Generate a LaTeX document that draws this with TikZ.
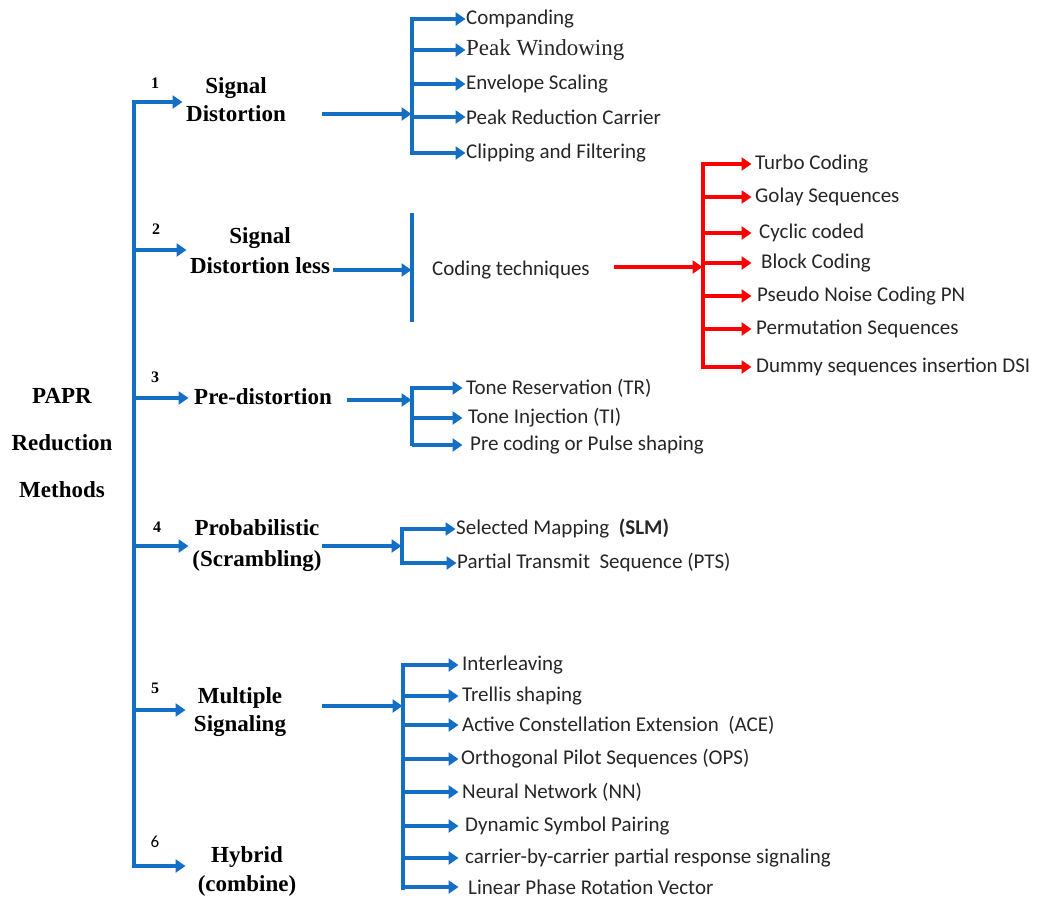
\documentclass[tikz,border=0pt]{standalone}
\usepackage{fontspec}
\setmainfont{Liberation Serif}
\newfontfamily\calib{Carlito}
\usetikzlibrary{arrows.meta}
\definecolor{bblue}{RGB}{20,110,195}
\definecolor{rred}{RGB}{255,0,0}
\tikzset{
  bar/.style={line width=3.6pt,bblue,line cap=rect},
  arr/.style={line width=3.6pt,bblue,-{Triangle[length=10pt,width=13pt]},shorten >=0.5pt},
  rln/.style={line width=3.6pt,rred,line cap=rect},
  rarr/.style={line width=3.6pt,rred,-{Triangle[length=10pt,width=13pt]},shorten >=0.5pt},
  cat/.style={font=\fontsize{23}{28}\selectfont\bfseries,align=center,inner sep=0pt},
  num/.style={font=\fontsize{16}{18}\selectfont\bfseries,inner sep=0pt},
  it/.style={font=\fontsize{21}{25}\selectfont\calib,anchor=west,inner sep=0pt,text=black!85},
}
\begin{document}
\begin{tikzpicture}[x=1pt,y=-1pt]
\useasboundingbox (0,0) rectangle (1037,898);
% title
\node[font=\fontsize{23}{47}\selectfont\bfseries,align=center,inner sep=0pt] (title) at (62,443) {PAPR\\Reduction\\Methods};
% main bar
\coordinate (mt) at (134,102);
\coordinate (mb) at (134,866);
\draw[bar] (mt) -- (mb);
% categories
\node[cat] (n1) at (236,100) {Signal\\Distortion};
\node[cat,font=\fontsize{23}{30}\selectfont\bfseries] (n2) at (260,251) {Signal\\Distortion less};
\node[cat] (n3) at (263,397) {Pre-distortion};
\node[cat,font=\fontsize{23}{31}\selectfont\bfseries] (n4) at (257,546) {Probabilistic\\(Scrambling)};
\node[cat] (n5) at (240,712) {Multiple\\Signaling};
\node[cat,font=\fontsize{23}{29}\selectfont\bfseries] (n6) at (247,871) {Hybrid\\(combine)};
\node[num] (k1) at (155,83) {1};
\node[num] (k2) at (156,229) {2};
\node[num] (k3) at (155,377) {3};
\node[num] (k4) at (157,527) {4};
\node[num] (k5) at (155,688) {5};
\node[num,font=\fontsize{17}{18}\selectfont\calib] (k6) at (155,842) {6};
\draw[arr] (mt) -- (183,102);
\draw[arr] (134,250) -- (187,250);
\draw[arr] (134,398) -- (189,398);
\draw[arr] (134,546) -- (189,546);
\draw[arr] (134,710) -- (186,710);
\draw[arr] (mb) -- (186,866);
% section 1
\coordinate (b1t) at (412,19);
\coordinate (b1b) at (412,153);
\draw[bar] (b1t) -- (b1b);
\coordinate (s1) at (322,114);
\draw[arr] (s1) -- (s1 -| b1t);
\node[it] (c1) at (466,19) {Companding};
\node[it,font=\fontsize{23}{27}\selectfont] (c2) at (466,50) {Peak Windowing};
\node[it] (c3) at (466,84) {Envelope Scaling};
\node[it] (c4) at (466,117) {Peak Reduction Carrier};
\node[it] (c5) at (466,153) {Clipping and Filtering};
\foreach \c in {c1,c2,c3,c4,c5} \draw[arr] (\c.west -| b1t) -- (\c.west);
% section 2
\coordinate (b2t) at (412,215);
\coordinate (b2b) at (412,320);
\draw[bar] (b2t) -- (b2b);
\coordinate (s2) at (333,270);
\draw[arr] (s2) -- (s2 -| b2t);
\node[it] (ct) at (432,270) {Coding techniques};
\coordinate (rt) at (703,164);
\coordinate (rb) at (703,367);
\draw[rln] (rt) -- (rb);
\coordinate (s2r) at (614,267);
\draw[rarr] (s2r) -- (s2r -| rt);
\node[it] (r1) at (755,164) {Turbo Coding};
\node[it] (r2) at (755,197) {Golay Sequences};
\node[it] (r3) at (759,233) {Cyclic coded};
\node[it] (r4) at (761,263) {Block Coding};
\node[it] (r5) at (757,296) {Pseudo Noise Coding PN};
\node[it] (r6) at (756,329) {Permutation Sequences};
\node[it] (r7) at (756,367) {Dummy sequences insertion DSI};
\foreach \c in {r1,r2,r3,r4,r5,r6,r7} \draw[rarr] (\c.west -| rt) -- (752,0 |- \c.west);
% section 3
\coordinate (b3t) at (412,388);
\coordinate (b3b) at (412,444);
\draw[bar] (b3t) -- (b3b);
\coordinate (s3) at (347,400);
\draw[arr] (s3) -- (s3 -| b3t);
\node[it] (p1) at (466,388) {Tone Reservation (TR)};
\node[it] (p2) at (468,418) {Tone Injection (TI)};
\node[it] (p3) at (470,445) {Pre coding or Pulse shaping};
\foreach \c in {p1,p2,p3} \draw[arr] (\c.west -| b3t) -- (463,0 |- \c.west);
% section 4
\coordinate (b4t) at (402,529);
\coordinate (b4b) at (402,563);
\draw[bar] (b4t) -- (b4b);
\coordinate (s4) at (322,546);
\draw[arr] (s4) -- (s4 -| b4t);
\node[it] (q1) at (456,529) {Selected Mapping\ \ \textbf{(SLM)}};
\node[it] (q2) at (457,563) {Partial Transmit\ \ Sequence (PTS)};
\foreach \c in {q1,q2} \draw[arr] (\c.west -| b4t) -- (\c.west);
% section 5
\coordinate (b5t) at (403,665);
\coordinate (b5b) at (403,888);
\draw[bar] (b5t) -- (b5b);
\coordinate (s5) at (322,706);
\draw[arr] (s5) -- (s5 -| b5t);
\node[it] (m1) at (462,665) {Interleaving};
\node[it] (m2) at (462,696) {Trellis shaping};
\node[it] (m3) at (462,725) {Active Constellation Extension\ \ (ACE)};
\node[it] (m4) at (461,759) {Orthogonal Pilot Sequences (OPS)};
\node[it] (m5) at (462,792) {Neural Network (NN)};
\node[it] (m6) at (465,826) {Dynamic Symbol Pairing};
\node[it] (m7) at (465,858) {carrier-by-carrier partial response signaling};
\node[it] (m8) at (468,887) {Linear Phase Rotation Vector};
\foreach \c in {m1,m2,m3,m4,m5,m6,m7,m8} \draw[arr] (\c.west -| b5t) -- (459,0 |- \c.west);
\end{tikzpicture}
\end{document}
